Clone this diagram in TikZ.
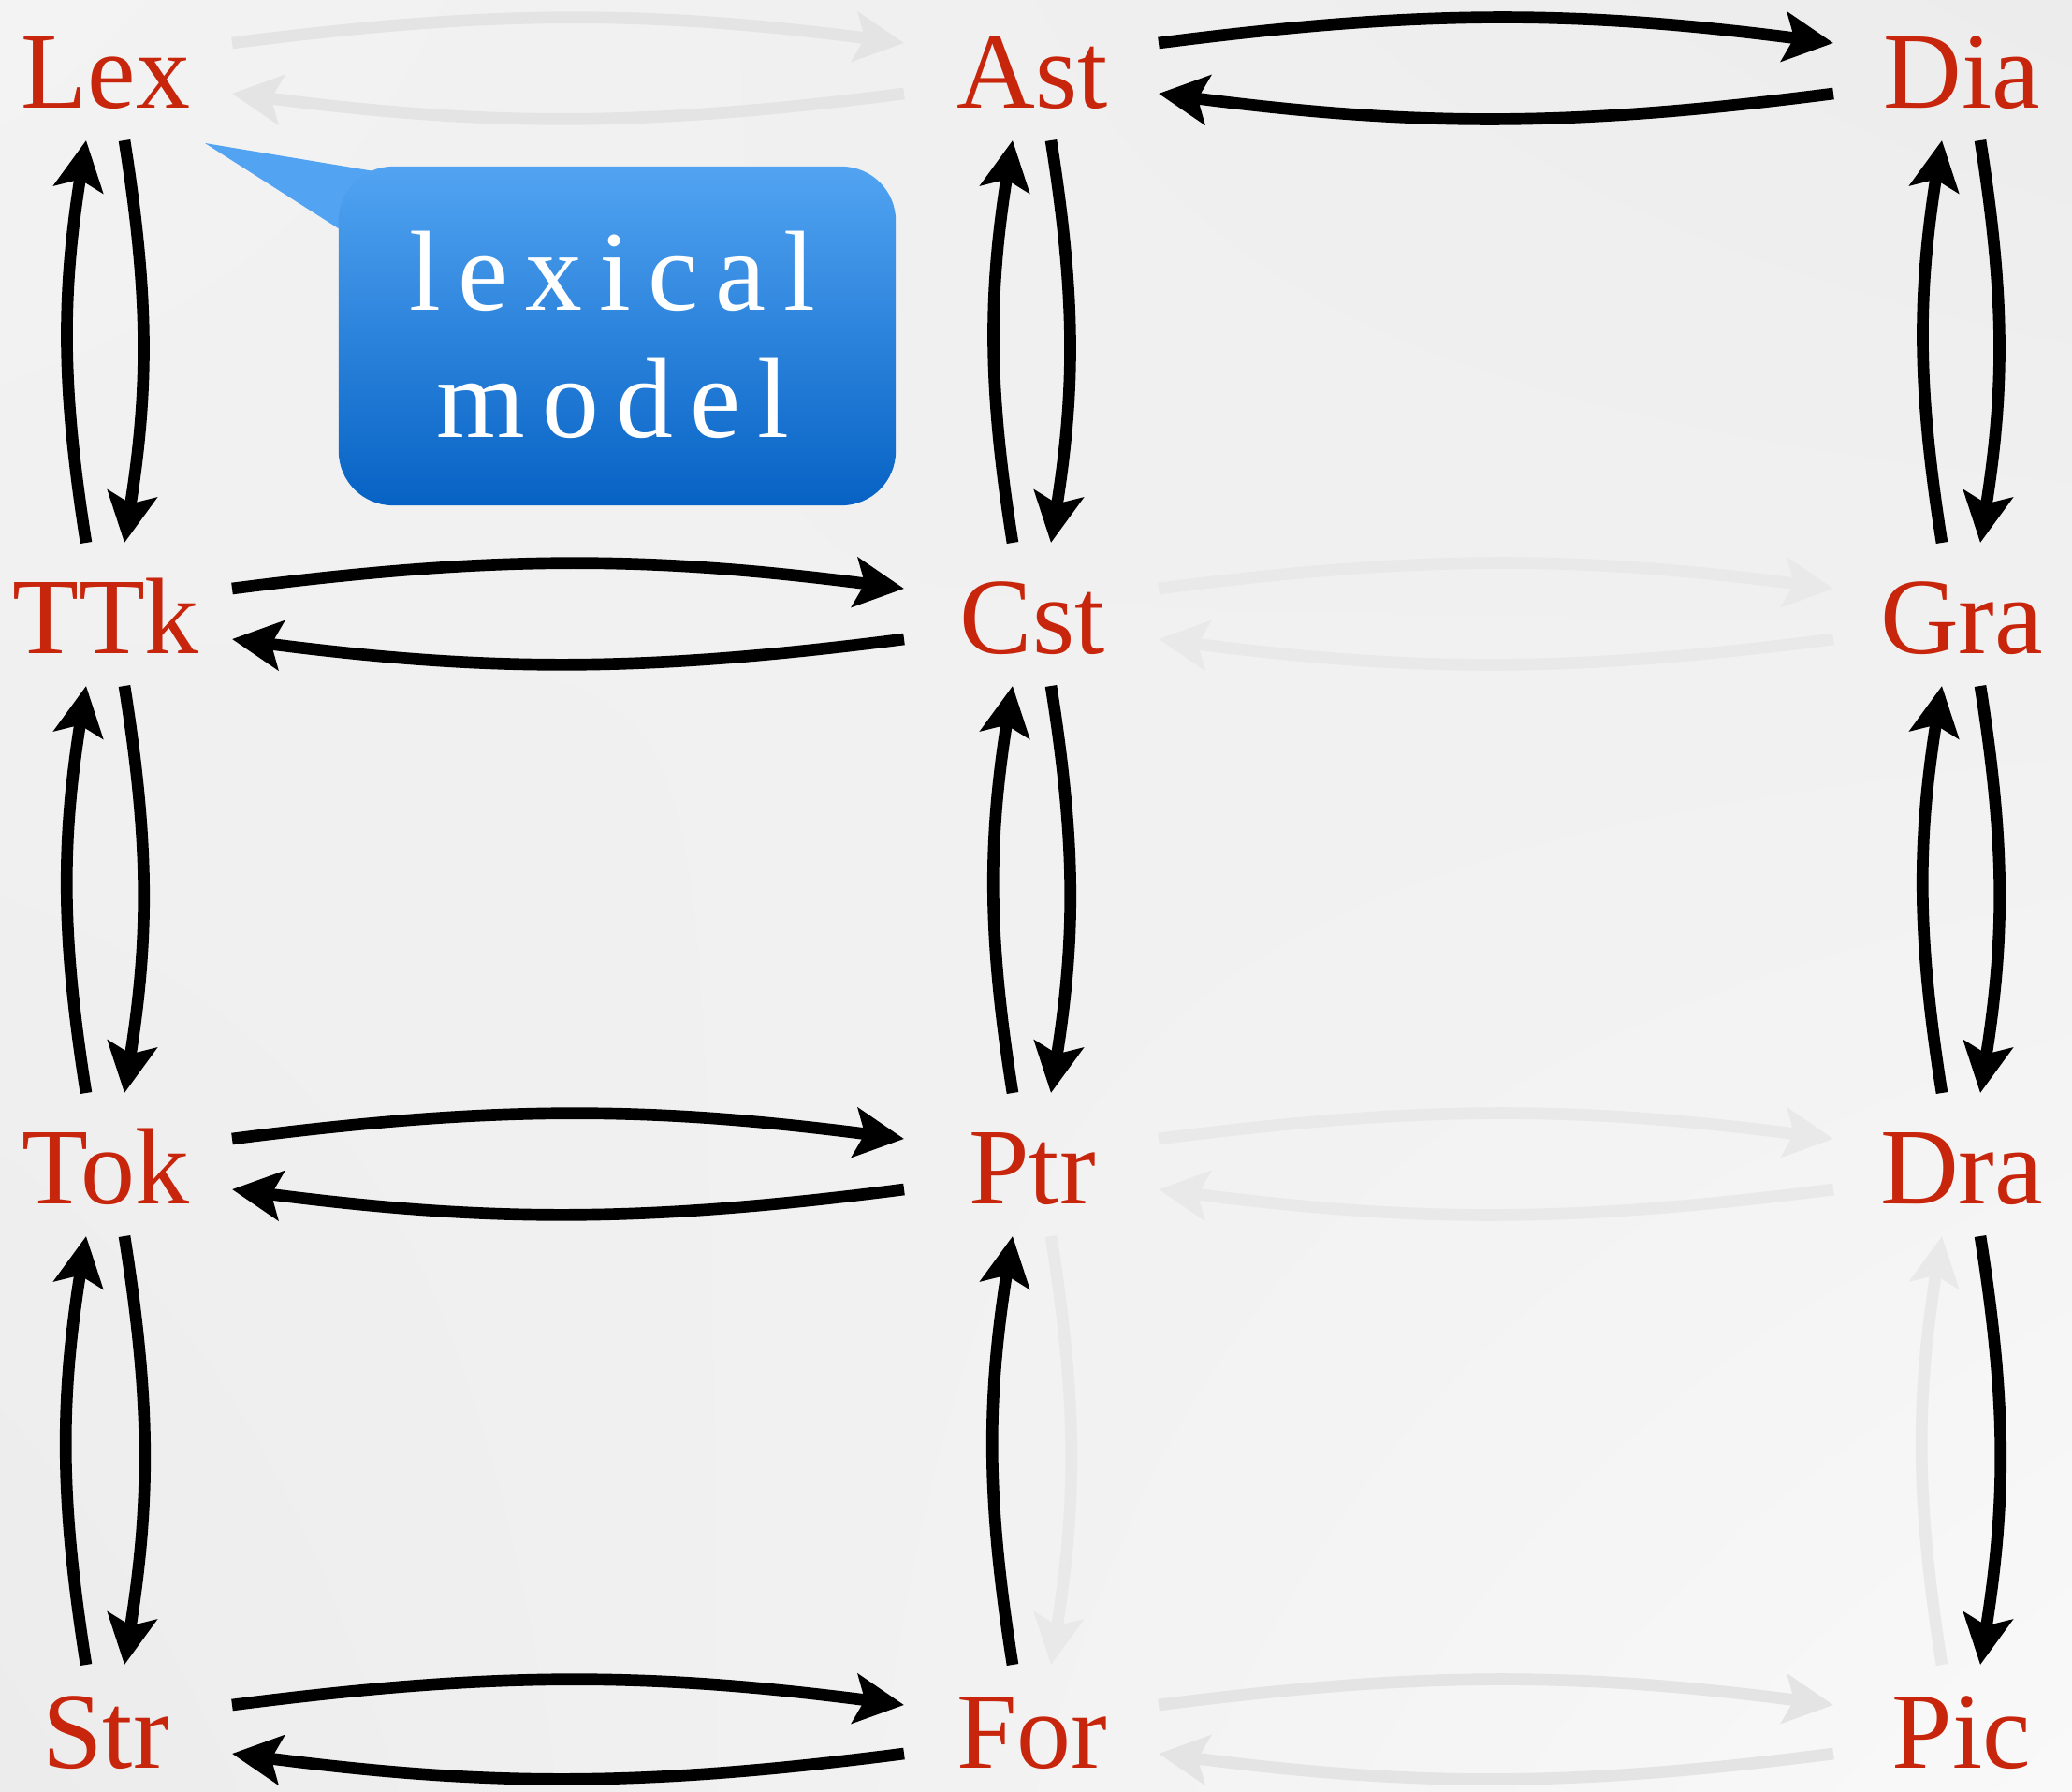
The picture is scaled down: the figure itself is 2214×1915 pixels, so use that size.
\documentclass[tikz,border=0pt]{standalone}
\usepackage{fontspec}
\setmainfont{Liberation Serif}
\newfontfamily\calloutfont[LetterSpace=15]{Liberation Serif}
\usetikzlibrary{arrows.meta,calc,shadings}
\definecolor{lblred}{RGB}{200,38,12}
\definecolor{bgA}{RGB}{243,243,243}
\definecolor{bgC}{RGB}{236,236,236}
\definecolor{bgB}{RGB}{249,249,249}
\definecolor{bluetop}{RGB}{82,164,242}
\definecolor{bluebot}{RGB}{6,98,196}
\definecolor{ghostA}{RGB}{228,228,228}
\definecolor{ghostB}{RGB}{233,233,233}
\begin{document}
\begin{tikzpicture}[x=0.01cm,y=0.01cm,
  lbl/.style={text=lblred, font=\fontsize{33}{38}\selectfont, inner sep=0pt, anchor=base},
  arr/.style={line width=3.6pt, draw=black, -{Stealth[length=15pt,width=15pt,inset=3pt]}},
  ghosta/.style={arr, draw=ghostA},
  ghostb/.style={arr, draw=ghostB},
  vb/.style={bend left=9},
  hb/.style={bend left=7.3},
  boxtext/.style={text=white, font=\calloutfont\fontsize{34.6}{40}\selectfont, inner sep=0pt, anchor=base}
]
% background
\shade[upper left=bgA, upper right=bgC, lower left=bgC, lower right=bgB] (0,0) rectangle (2214,-1915);
\useasboundingbox (0,0) rectangle (2214,-1915);

% labels
\node[lbl] (Lex) at (113,-115) {Lex};
\node[lbl] (Ast) at (1103,-115) {Ast};
\node[lbl] (Dia) at (2096,-115) {Dia};
\node[lbl] (TTk) at (113,-698) {TTk};
\node[lbl] (Cst) at (1103,-698) {Cst};
\node[lbl] (Gra) at (2096,-698) {Gra};
\node[lbl] (Tok) at (113,-1286) {Tok};
\node[lbl] (Ptr) at (1103,-1286) {Ptr};
\node[lbl] (Dra) at (2096,-1286) {Dra};
\node[lbl] (Str) at (113,-1889) {Str};
\node[lbl] (For) at (1103,-1889) {For};
\node[lbl] (Pic) at (2096,-1889) {Pic};

% ghost (faint) connectors
\draw[ghosta] ([shift={(135,69)}]Lex.base) to[hb] ([shift={(-137,69)}]Ast.base);
\draw[ghosta] ([shift={(-137,15)}]Ast.base) to[hb] ([shift={(135,15)}]Lex.base);
\draw[ghostb] ([shift={(135,69)}]Cst.base) to[hb] ([shift={(-137,69)}]Gra.base);
\draw[ghostb] ([shift={(-137,15)}]Gra.base) to[hb] ([shift={(135,15)}]Cst.base);
\draw[ghostb] ([shift={(135,69)}]Ptr.base) to[hb] ([shift={(-137,69)}]Dra.base);
\draw[ghostb] ([shift={(-137,15)}]Dra.base) to[hb] ([shift={(135,15)}]Ptr.base);
\draw[ghosta] ([shift={(135,67)}]For.base) to[hb] ([shift={(-137,67)}]Pic.base);
\draw[ghosta] ([shift={(-137,15)}]Pic.base) to[hb] ([shift={(135,15)}]For.base);
\draw[ghostb] ([shift={(20,-35)}]Ptr.base) to[vb] ([shift={(20,110)}]For.base);
\draw[ghostb] ([shift={(-21,110)}]Pic.base) to[vb] ([shift={(-21,-35)}]Dra.base);

% horizontal pairs
\draw[arr] ([shift={(135,69)}]Ast.base) to[hb] ([shift={(-137,69)}]Dia.base);
\draw[arr] ([shift={(-137,15)}]Dia.base) to[hb] ([shift={(135,15)}]Ast.base);
\draw[arr] ([shift={(135,69)}]TTk.base) to[hb] ([shift={(-137,69)}]Cst.base);
\draw[arr] ([shift={(-137,15)}]Cst.base) to[hb] ([shift={(135,15)}]TTk.base);
\draw[arr] ([shift={(135,69)}]Tok.base) to[hb] ([shift={(-137,69)}]Ptr.base);
\draw[arr] ([shift={(-137,15)}]Ptr.base) to[hb] ([shift={(135,15)}]Tok.base);
\draw[arr] ([shift={(135,67)}]Str.base) to[hb] ([shift={(-137,67)}]For.base);
\draw[arr] ([shift={(-137,15)}]For.base) to[hb] ([shift={(135,15)}]Str.base);

% vertical pairs
\draw[arr] ([shift={(20,-35)}]Lex.base) to[vb] ([shift={(20,118)}]TTk.base);
\draw[arr] ([shift={(-21,118)}]TTk.base) to[vb] ([shift={(-21,-35)}]Lex.base);
\draw[arr] ([shift={(20,-35)}]TTk.base) to[vb] ([shift={(20,118)}]Tok.base);
\draw[arr] ([shift={(-21,118)}]Tok.base) to[vb] ([shift={(-21,-35)}]TTk.base);
\draw[arr] ([shift={(20,-35)}]Tok.base) to[vb] ([shift={(20,110)}]Str.base);
\draw[arr] ([shift={(-21,110)}]Str.base) to[vb] ([shift={(-21,-35)}]Tok.base);

\draw[arr] ([shift={(20,-35)}]Ast.base) to[vb] ([shift={(20,118)}]Cst.base);
\draw[arr] ([shift={(-21,118)}]Cst.base) to[vb] ([shift={(-21,-35)}]Ast.base);
\draw[arr] ([shift={(20,-35)}]Cst.base) to[vb] ([shift={(20,118)}]Ptr.base);
\draw[arr] ([shift={(-21,118)}]Ptr.base) to[vb] ([shift={(-21,-35)}]Cst.base);
\draw[arr] ([shift={(-21,110)}]For.base) to[vb] ([shift={(-21,-35)}]Ptr.base);

\draw[arr] ([shift={(20,-35)}]Dia.base) to[vb] ([shift={(20,118)}]Gra.base);
\draw[arr] ([shift={(-21,118)}]Gra.base) to[vb] ([shift={(-21,-35)}]Dia.base);
\draw[arr] ([shift={(20,-35)}]Gra.base) to[vb] ([shift={(20,118)}]Dra.base);
\draw[arr] ([shift={(-21,118)}]Dra.base) to[vb] ([shift={(-21,-35)}]Gra.base);
\draw[arr] ([shift={(20,-35)}]Dra.base) to[vb] ([shift={(20,110)}]Pic.base);

% callout
\fill[bluetop] (219,-153) -- (400,-183) -- (363,-245) -- cycle;
\node[draw=none, rounded corners=16.5pt, top color=bluetop, bottom color=bluebot,
      minimum width=5.95cm, minimum height=3.62cm, inner sep=0pt] (callout) at (659.5,-359) {};
\node[boxtext] (lexical) at (654,-331) {lexical};
\node[boxtext] (model) at (655,-467) {model};
\end{tikzpicture}
\end{document}
